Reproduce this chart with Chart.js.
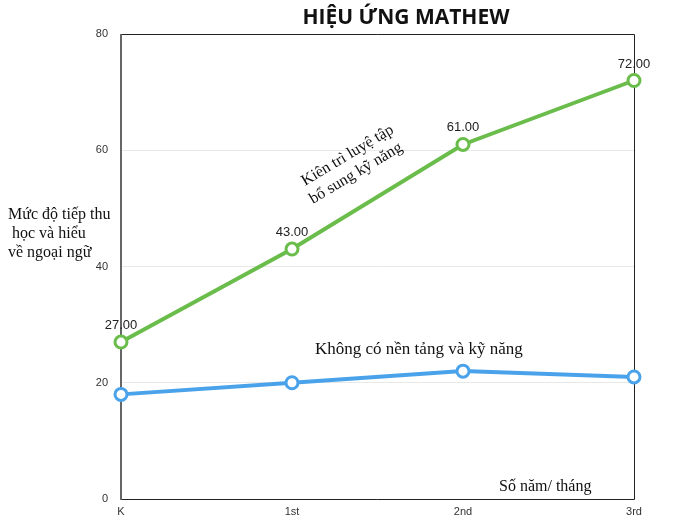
<!DOCTYPE html>
<html lang="vi">
<head>
    <meta charset="UTF-8">
    <title>Hiệu ứng Mathew</title>
    <style>
        html, body { margin: 0; padding: 0; background: #fff; }
        #wrap { position: relative; width: 673px; height: 522px; }
    </style>
    <script src="https://cdn.jsdelivr.net/npm/chart.js"></script>
</head>
<body>
    <div id="wrap"><canvas id="chart" width="673" height="522"></canvas></div>

    <script>
        const labels = ['K', '1st', '2nd', '3rd'];
        const practiceValues = [27, 43, 61, 72];
        const noBaseValues = [18, 20, 22, 21];
        const yTicks = [0, 20, 40, 60, 80];

        const green = '#6abd4b';
        const blue = '#4aa3ea';

        // khung, tiêu đề và các chú thích
        const decor = {
            id: 'decor',
            beforeDatasetsDraw(chart) {
                const { ctx, chartArea: a } = chart;
                ctx.save();
                ctx.strokeStyle = '#222';
                ctx.lineWidth = 1;
                ctx.beginPath();
                ctx.moveTo(a.left, a.top + 0.5);
                ctx.lineTo(a.right + 0.5, a.top + 0.5);
                ctx.lineTo(a.right + 0.5, a.bottom + 0.5);
                ctx.lineTo(a.left, a.bottom + 0.5);
                ctx.stroke();
                ctx.strokeStyle = '#666';
                ctx.lineWidth = 2;
                ctx.beginPath();
                ctx.moveTo(a.left, a.top);
                ctx.lineTo(a.left, a.bottom + 1);
                ctx.stroke();
                ctx.restore();
            },
            afterDraw(chart) {
                const { ctx } = chart;
                const meta = chart.getDatasetMeta(0);
                ctx.save();

                ctx.fillStyle = '#111';
                ctx.font = 'bold 21px "Open Sans", sans-serif';
                ctx.textAlign = 'center';
                ctx.textBaseline = 'middle';
                ctx.fillText('HIỆU ỨNG MATHEW', 406, 18);

                ctx.font = '13px "Liberation Sans", Arial, sans-serif';
                ctx.fillStyle = '#222';
                ctx.textBaseline = 'alphabetic';
                meta.data.forEach((pt, i) => {
                    ctx.fillText(practiceValues[i].toFixed(2), pt.x, pt.y - 13);
                });

                ctx.font = '16px "Liberation Serif", "Times New Roman", serif';
                ctx.fillStyle = '#111';
                ctx.textAlign = 'left';
                ctx.fillText('Mức độ tiếp thu', 8, 219);
                ctx.fillText('học và hiểu', 12, 238);
                ctx.fillText('về ngoại ngữ', 8, 257);

                ctx.fillText('Số năm/ tháng', 499, 491);

                ctx.save();
                ctx.translate(305, 186);
                ctx.rotate(-0.54);
                ctx.fillText('Kiên trì luyệ tập', 0, 0);
                ctx.restore();
                ctx.save();
                ctx.translate(313, 204);
                ctx.rotate(-0.54);
                ctx.fillText('bổ sung kỹ năng', 0, 0);
                ctx.restore();

                ctx.font = '17px "Liberation Serif", "Times New Roman", serif';
                ctx.fillText('Không có nền tảng và kỹ năng', 315, 354);

                ctx.restore();
            }
        };

        new Chart(document.getElementById('chart'), {
            type: 'line',
            data: {
                labels: labels,
                datasets: [
                    {
                        data: practiceValues,
                        borderColor: green,
                        backgroundColor: '#fff',
                        borderWidth: 4,
                        pointRadius: 6,
                        pointBorderWidth: 3,
                        pointBorderColor: green,
                        pointBackgroundColor: '#fff',
                        tension: 0
                    },
                    {
                        data: noBaseValues,
                        borderColor: blue,
                        backgroundColor: '#fff',
                        borderWidth: 4,
                        pointRadius: 6,
                        pointBorderWidth: 3,
                        pointBorderColor: blue,
                        pointBackgroundColor: '#fff',
                        tension: 0
                    }
                ]
            },
            options: {
                responsive: false,
                animation: false,
                layout: { padding: { top: 34, right: 39, left: 0, bottom: 0 } },
                plugins: {
                    legend: { display: false },
                    tooltip: { enabled: false }
                },
                scales: {
                    x: {
                        offset: false,
                        grid: { display: false, drawTicks: false },
                        border: { display: false },
                        ticks: {
                            color: '#333',
                            font: { family: '"Liberation Sans", Arial, sans-serif', size: 11 },
                            padding: 6,
                            maxRotation: 0
                        },
                        afterFit: s => { s.height = 23; }
                    },
                    y: {
                        min: 0,
                        max: 80,
                        afterBuildTicks: s => { s.ticks = yTicks.map(v => ({ value: v })); },
                        grid: {
                            color: '#e8e8e8',
                            drawTicks: false
                        },
                        border: { display: false },
                        ticks: {
                            color: '#333',
                            font: { family: '"Liberation Sans", Arial, sans-serif', size: 11 },
                            padding: 13
                        },
                        afterFit: s => { s.width = 121; }
                    }
                }
            },
            plugins: [decor]
        });
    </script>
</body>
</html>
